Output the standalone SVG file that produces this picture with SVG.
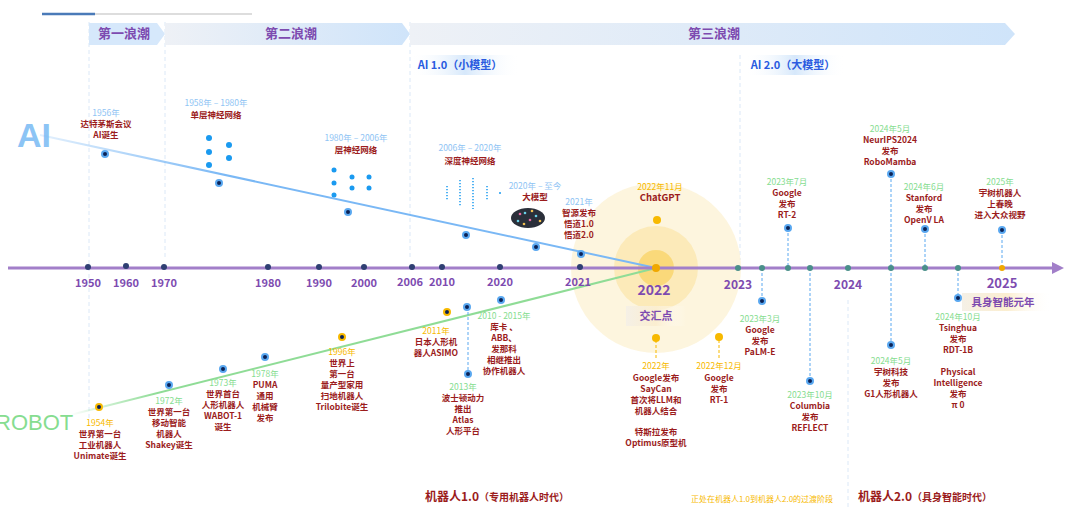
<svg xmlns="http://www.w3.org/2000/svg" width="1080" height="508" viewBox="0 0 1080 508">
<defs>
<linearGradient id="wave" x1="0" x2="1"><stop offset="0" stop-color="#eef1f6"/><stop offset="1" stop-color="#cfe4fa"/></linearGradient>
<linearGradient id="tag" x1="0" x2="1"><stop offset="0" stop-color="#fff" stop-opacity="0"/><stop offset="0.5" stop-color="#d6e8fb"/><stop offset="1" stop-color="#fff" stop-opacity="0"/></linearGradient>
<linearGradient id="tag2" x1="0" x2="1"><stop offset="0" stop-color="#f5f0e6"/><stop offset="0.5" stop-color="#fbeed0"/><stop offset="1" stop-color="#fff" stop-opacity="0"/></linearGradient>
<linearGradient id="rob" x1="0" x2="1"><stop offset="0" stop-color="#7fd98a" stop-opacity="0"/><stop offset="0.15" stop-color="#8fdc96"/><stop offset="1" stop-color="#8fdc96"/></linearGradient>
<linearGradient id="ail" x1="0" x2="1"><stop offset="0" stop-color="#7ab8f5" stop-opacity="0.2"/><stop offset="0.3" stop-color="#7ab8f5"/><stop offset="1" stop-color="#7ab8f5"/></linearGradient>
<marker id="arr" viewBox="0 0 10 10" refX="5" refY="5" markerWidth="4" markerHeight="4" orient="auto"><path d="M0,0 L10,5 L0,10 z" fill="#a27fc9"/></marker>
</defs>
<style>
text{font-family:"Noto Sans CJK SC","Liberation Sans",sans-serif;text-anchor:middle;font-weight:bold}
.yr{font-size:8.5px;fill:#8fc4f4;font-weight:normal}
.gy{font-size:8.5px;fill:#86dd90;font-weight:normal}
.oy{font-size:8.5px;fill:#f7b900;font-weight:normal}
.d{font-size:8.5px;fill:#9b1c1c}
.ax{font-size:11px;fill:#7d4bb0}
.tk{fill:#2f3f73}
.dn{fill:#0b2256;stroke:#5aa8f0;stroke-width:2}
.yd{fill:#0b2256;stroke:#f7b900;stroke-width:2}
.dash{stroke:#5aa8f0;stroke-width:1;stroke-dasharray:3,2;fill:none}
.vg{stroke:#dbe8f7;stroke-width:1;stroke-dasharray:4,3}
.bd{fill:#1a9af0}
.wv{font-size:13px;fill:#7d4bb0}
.tg{font-size:11px;fill:#2a5be0}
</style>
<line x1="42" y1="14" x2="252" y2="14" stroke="#bbb" stroke-width="1"/>
<line x1="42" y1="14" x2="95" y2="14" stroke="#4a7ab8" stroke-width="2.5"/>
<g id="guides">
<line class="vg" x1="89" y1="22" x2="89" y2="420"/>
<line class="vg" x1="165" y1="22" x2="165" y2="260"/>
<line class="vg" x1="410" y1="22" x2="410" y2="260"/>
<line class="vg" x1="740" y1="55" x2="740" y2="260"/>
<line class="vg" x1="848" y1="300" x2="848" y2="508"/>
</g>
<g id="waves">
<path d="M89,23 H157 L165,34 L157,45 H89 Z" fill="#d6e8fb"/>
<path d="M165,23 H402 L410,34 L402,45 H165 Z" fill="url(#wave)"/>
<path d="M410,23 H1005 L1015,34 L1005,45 H410 Z" fill="url(#wave)"/>
<text class="wv" x="124" y="38">第一浪潮</text>
<text class="wv" x="291" y="38">第二浪潮</text>
<text class="wv" x="714" y="38">第三浪潮</text>
<rect x="410" y="55" width="110" height="20" fill="url(#tag)"/>
<text class="tg" x="460" y="69">AI 1.0（小模型）</text>
<rect x="745" y="55" width="100" height="20" fill="url(#tag)"/>
<text class="tg" x="793" y="69">AI 2.0（大模型）</text>
</g>
<g id="convergence">
<circle cx="656" cy="268" r="85" fill="#fdf3d6" opacity="0.8"/>
<circle cx="656" cy="268" r="42" fill="#fbe6aa" opacity="0.7"/>
<circle cx="656" cy="268" r="18" fill="#f9d46a" opacity="0.8"/>
</g>
<text x="34" y="147" style="font-size:34px;fill:#8cc4f5;font-family:'Liberation Sans',sans-serif">AI</text>
<text x="-5" y="430" style="font-size:22px;fill:#86dd90;font-weight:normal;text-anchor:start;font-family:'Liberation Sans',sans-serif">ROBOT</text>
<g id="connectors">
<path d="M40,135 Q340,200 656,268" stroke="url(#ail)" stroke-width="2" fill="none"/>
<path d="M70,415 L656,268" stroke="url(#rob)" stroke-width="2" fill="none"/>
<line x1="8" y1="268" x2="1058" y2="268" stroke="#a27fc9" stroke-width="3" marker-end="url(#arr)"/>
<line class="dash" x1="468" y1="307" x2="468" y2="374"/>
<line class="dash" x1="762" y1="268" x2="762" y2="301"/>
<line class="dash" x1="810" y1="268" x2="810" y2="381"/>
<line class="dash" x1="891" y1="268" x2="891" y2="345"/>
<line class="dash" x1="958" y1="268" x2="958" y2="298"/>
<line class="dash" x1="788" y1="228" x2="788" y2="268"/>
<line class="dash" x1="891" y1="174" x2="891" y2="268"/>
<line class="dash" x1="925" y1="229" x2="925" y2="268"/>
<line class="dash" x1="1002" y1="230" x2="1002" y2="268"/>
<line x1="656" y1="340" x2="656" y2="360" stroke="#f7b900" stroke-dasharray="3,2"/>
<line x1="719" y1="340" x2="719" y2="360" stroke="#f7b900" stroke-dasharray="3,2"/>
</g>
<g id="ticks">
<circle class="tk" cx="88" cy="267" r="3"/><circle class="tk" cx="126" cy="266" r="3"/><circle class="tk" cx="164" cy="267" r="3"/>
<circle class="tk" cx="268" cy="267" r="3"/><circle class="tk" cx="319" cy="267" r="3"/><circle class="tk" cx="364" cy="267" r="3"/>
<circle class="tk" cx="412" cy="267" r="3"/><circle class="tk" cx="442" cy="267" r="3"/><circle class="tk" cx="500" cy="267" r="3"/>
<circle class="tk" cx="580" cy="267" r="3"/><circle cx="656" cy="268" r="4" fill="#f0a800"/>
<g fill="#4a8f8a"><circle cx="738" cy="268" r="3"/><circle cx="762" cy="268" r="3"/><circle cx="788" cy="268" r="3"/><circle cx="810" cy="268" r="3"/><circle cx="848" cy="268" r="3"/><circle cx="891" cy="268" r="3"/><circle cx="925" cy="268" r="3"/><circle cx="958" cy="268" r="3"/></g>
<circle cx="1002" cy="268" r="3" fill="#f0a800"/>
<text x="88" y="287" class="ax">1950</text><text x="126" y="287" class="ax">1960</text><text x="164" y="287" class="ax">1970</text>
<text x="268" y="287" class="ax">1980</text><text x="319" y="287" class="ax">1990</text><text x="364" y="287" class="ax">2000</text>
<text x="410" y="286" class="ax">2006</text><text x="442" y="286" class="ax">2010</text><text x="500" y="286" class="ax">2020</text>
<text x="578" y="286" class="ax">2021</text>
<text x="654" y="295" style="font-size:14px;fill:#7d4bb0">2022</text>
<text x="738" y="289" style="font-size:12px;fill:#7d4bb0">2023</text>
<text x="848" y="289" style="font-size:12px;fill:#7d4bb0">2024</text>
<text x="1002" y="288" style="font-size:13px;fill:#7d4bb0">2025</text>
</g>
<g id="node-jiaohui"><rect x="626" y="306" width="60" height="20" fill="url(#tag2)"/><text x="656" y="320" style="font-size:11px;fill:#7d4bb0">交汇点</text></g>
<g id="node-2025tag"><rect x="962" y="293" width="90" height="18" fill="url(#tag2)"/><text x="1003" y="306" style="font-size:10.5px;fill:#7d4bb0">具身智能元年</text></g>
<g id="node-1956"><circle class="dn" cx="105" cy="154" r="3"/><text class="yr" x="106" y="116">1956年</text><text class="d" x="106" y="127">达特茅斯会议</text><text class="d" x="106" y="138">AI诞生</text></g>
<g id="node-1958"><circle class="dn" cx="219" cy="183" r="3"/><text class="yr" x="216" y="106">1958年 – 1980年</text><text class="d" x="216" y="118">单层神经网络</text>
<circle class="bd" cx="209" cy="138" r="3"/><circle class="bd" cx="209" cy="152" r="3"/><circle class="bd" cx="209" cy="165" r="3"/><circle class="bd" cx="229" cy="145" r="3"/><circle class="bd" cx="229" cy="158" r="3"/></g>
<g id="node-1980"><circle class="dn" cx="348" cy="212" r="3"/><text class="yr" x="356" y="141">1980年 – 2006年</text><text class="d" x="356" y="153">层神经网络</text>
<circle class="bd" cx="334" cy="170" r="2.5"/><circle class="bd" cx="334" cy="183" r="2.5"/><circle class="bd" cx="334" cy="195" r="2.5"/><circle class="bd" cx="352" cy="177" r="2.5"/><circle class="bd" cx="352" cy="188" r="2.5"/><circle class="bd" cx="369" cy="177" r="2.5"/><circle class="bd" cx="369" cy="188" r="2.5"/></g>
<g id="node-2006"><circle class="dn" cx="466" cy="235" r="3"/><text class="yr" x="470" y="151">2006年 – 2020年</text><text class="d" x="470" y="164">深度神经网络</text>
<g stroke="#1a9af0" stroke-width="1.5" stroke-dasharray="1.2,1.8"><line x1="447" y1="186" x2="447" y2="200"/><line x1="460" y1="180" x2="460" y2="206"/><line x1="473" y1="178" x2="473" y2="209"/><line x1="487" y1="186" x2="487" y2="200"/></g><circle class="bd" cx="500" cy="193" r="1"/></g>
<g id="node-2020"><circle class="dn" cx="536" cy="247" r="3"/><text class="yr" x="535" y="189">2020年 – 至今</text><text class="d" x="535" y="200">大模型</text>
<ellipse cx="528" cy="218" rx="17" ry="10" fill="#2a2f3a"/><g fill="#e86aa0"><circle cx="520" cy="214" r="1.3"/><circle cx="530" cy="220" r="1.3"/></g><g fill="#6ad0e8"><circle cx="525" cy="213" r="1.3"/><circle cx="536" cy="216" r="1.3"/><circle cx="518" cy="221" r="1.3"/></g><g fill="#f0c050"><circle cx="532" cy="211" r="1.3"/><circle cx="540" cy="221" r="1.3"/><circle cx="524" cy="224" r="1.3"/></g></g>
<g id="node-2021"><circle class="dn" cx="581" cy="254" r="3"/><text class="yr" x="579" y="205">2021年</text><text class="d" x="579" y="216">智源发布</text><text class="d" x="579" y="227">悟道1.0</text><text class="d" x="579" y="238">悟道2.0</text></g>
<g id="node-chatgpt"><circle cx="657" cy="220" r="4" fill="#f7b900"/><text class="oy" x="660" y="190">2022年11月</text><text class="d" x="660" y="201" style="font-size:9.5px">ChatGPT</text></g>
<g id="node-rt2"><circle class="dn" cx="788" cy="228" r="3"/><text class="gy" x="787" y="185">2023年7月</text><text class="d" x="787" y="196">Google</text><text class="d" x="787" y="207">发布</text><text class="d" x="787" y="218">RT-2</text></g>
<g id="node-robomamba"><circle class="dn" cx="891" cy="174" r="3"/><text class="gy" x="890" y="132">2024年5月</text><text class="d" x="890" y="143">NeurIPS2024</text><text class="d" x="890" y="154">发布</text><text class="d" x="890" y="165">RoboMamba</text></g>
<g id="node-openvla"><circle class="dn" cx="925" cy="229" r="3"/><text class="gy" x="924" y="190">2024年6月</text><text class="d" x="924" y="201">Stanford</text><text class="d" x="924" y="212">发布</text><text class="d" x="924" y="223">OpenV LA</text></g>
<g id="node-2025"><circle class="dn" cx="1002" cy="230" r="3"/><text class="gy" x="1000" y="185">2025年</text><text class="d" x="1000" y="196">宇树机器人</text><text class="d" x="1000" y="207">上春晚</text><text class="d" x="1000" y="218">进入大众视野</text></g>
<g id="node-1954"><circle class="yd" cx="99" cy="407" r="3"/><text class="oy" x="100" y="426">1954年</text><text class="d" x="100" y="437">世界第一台</text><text class="d" x="100" y="448">工业机器人</text><text class="d" x="100" y="459">Unimate诞生</text></g>
<g id="node-1972"><circle class="dn" cx="169" cy="385" r="3"/><text class="gy" x="169" y="404">1972年</text><text class="d" x="169" y="415">世界第一台</text><text class="d" x="169" y="426">移动智能</text><text class="d" x="169" y="437">机器人</text><text class="d" x="169" y="448">Shakey诞生</text></g>
<g id="node-1973"><circle class="dn" cx="223" cy="369" r="3"/><text class="gy" x="223" y="386">1973年</text><text class="d" x="223" y="397">世界首台</text><text class="d" x="223" y="408">人形机器人</text><text class="d" x="223" y="419">WABOT-1</text><text class="d" x="223" y="430">诞生</text></g>
<g id="node-1978"><circle class="dn" cx="265" cy="357" r="3"/><text class="gy" x="265" y="377">1978年</text><text class="d" x="265" y="388">PUMA</text><text class="d" x="265" y="399">通用</text><text class="d" x="265" y="410">机械臂</text><text class="d" x="265" y="421">发布</text></g>
<g id="node-1996"><circle class="yd" cx="342" cy="337" r="3"/><text class="oy" x="342" y="355">1996年</text><text class="d" x="342" y="366">世界上</text><text class="d" x="342" y="377">第一台</text><text class="d" x="342" y="388">量产型家用</text><text class="d" x="342" y="399">扫地机器人</text><text class="d" x="342" y="410">Trilobite诞生</text></g>
<g id="node-2011"><circle class="yd" cx="447" cy="312" r="3"/><text class="oy" x="436" y="334">2011年</text><text class="d" x="436" y="345">日本人形机</text><text class="d" x="436" y="356">器人ASIMO</text></g>
<g id="node-2013"><circle class="dn" cx="467" cy="307" r="3"/><circle class="dn" cx="468" cy="374" r="3"/><text class="gy" x="463" y="390">2013年</text><text class="d" x="463" y="401">波士顿动力</text><text class="d" x="463" y="412">推出</text><text class="d" x="463" y="423">Atlas</text><text class="d" x="463" y="434">人形平台</text></g>
<g id="node-2010"><circle class="dn" cx="501" cy="300" r="3"/><text class="gy" x="504" y="319">2010 - 2015年</text><text class="d" x="504" y="330">库卡 、</text><text class="d" x="504" y="341">ABB、</text><text class="d" x="504" y="352">发那科</text><text class="d" x="504" y="363">相继推出</text><text class="d" x="504" y="374">协作机器人</text></g>
<g id="node-saycan"><circle cx="656" cy="338" r="4" fill="#f7b900"/><text class="oy" x="656" y="369">2022年</text><text class="d" x="656" y="381">Google发布</text><text class="d" x="656" y="392">SayCan</text><text class="d" x="656" y="403">首次将LLM和</text><text class="d" x="656" y="414">机器人结合</text><text class="d" x="656" y="435">特斯拉发布</text><text class="d" x="656" y="446">Optimus原型机</text></g>
<g id="node-rt1"><circle cx="719" cy="337" r="4" fill="#f7b900"/><text class="oy" x="719" y="369">2022年12月</text><text class="d" x="719" y="381">Google</text><text class="d" x="719" y="392">发布</text><text class="d" x="719" y="403">RT-1</text></g>
<g id="node-palme"><circle class="dn" cx="762" cy="301" r="3"/><text class="gy" x="760" y="322">2023年3月</text><text class="d" x="760" y="333">Google</text><text class="d" x="760" y="344">发布</text><text class="d" x="760" y="355">PaLM-E</text></g>
<g id="node-reflect"><circle class="dn" cx="810" cy="381" r="3"/><text class="gy" x="810" y="398">2023年10月</text><text class="d" x="810" y="409">Columbia</text><text class="d" x="810" y="420">发布</text><text class="d" x="810" y="431">REFLECT</text></g>
<g id="node-g1"><circle class="dn" cx="891" cy="345" r="3"/><text class="gy" x="891" y="364">2024年5月</text><text class="d" x="891" y="375">宇树科技</text><text class="d" x="891" y="386">发布</text><text class="d" x="891" y="397">G1人形机器人</text></g>
<g id="node-rdt"><circle class="dn" cx="958" cy="298" r="3"/><text class="gy" x="958" y="320">2024年10月</text><text class="d" x="958" y="331">Tsinghua</text><text class="d" x="958" y="342">发布</text><text class="d" x="958" y="353">RDT-1B</text><text class="d" x="958" y="375">Physical</text><text class="d" x="958" y="386">Intelligence</text><text class="d" x="958" y="397">发布</text><text class="d" x="958" y="408">π 0</text></g>
<g id="eras">
<text x="497" y="501" style="font-size:12px;fill:#9b1c1c">机器人1.0<tspan style="font-size:10px">（专用机器人时代）</tspan></text>
<text x="762" y="502" style="font-size:8px;fill:#f7b900;font-weight:normal">正处在机器人1.0到机器人2.0的过渡阶段</text>
<text x="925" y="501" style="font-size:12px;fill:#9b1c1c">机器人2.0<tspan style="font-size:10px">（具身智能时代）</tspan></text>
</g>
</svg>
